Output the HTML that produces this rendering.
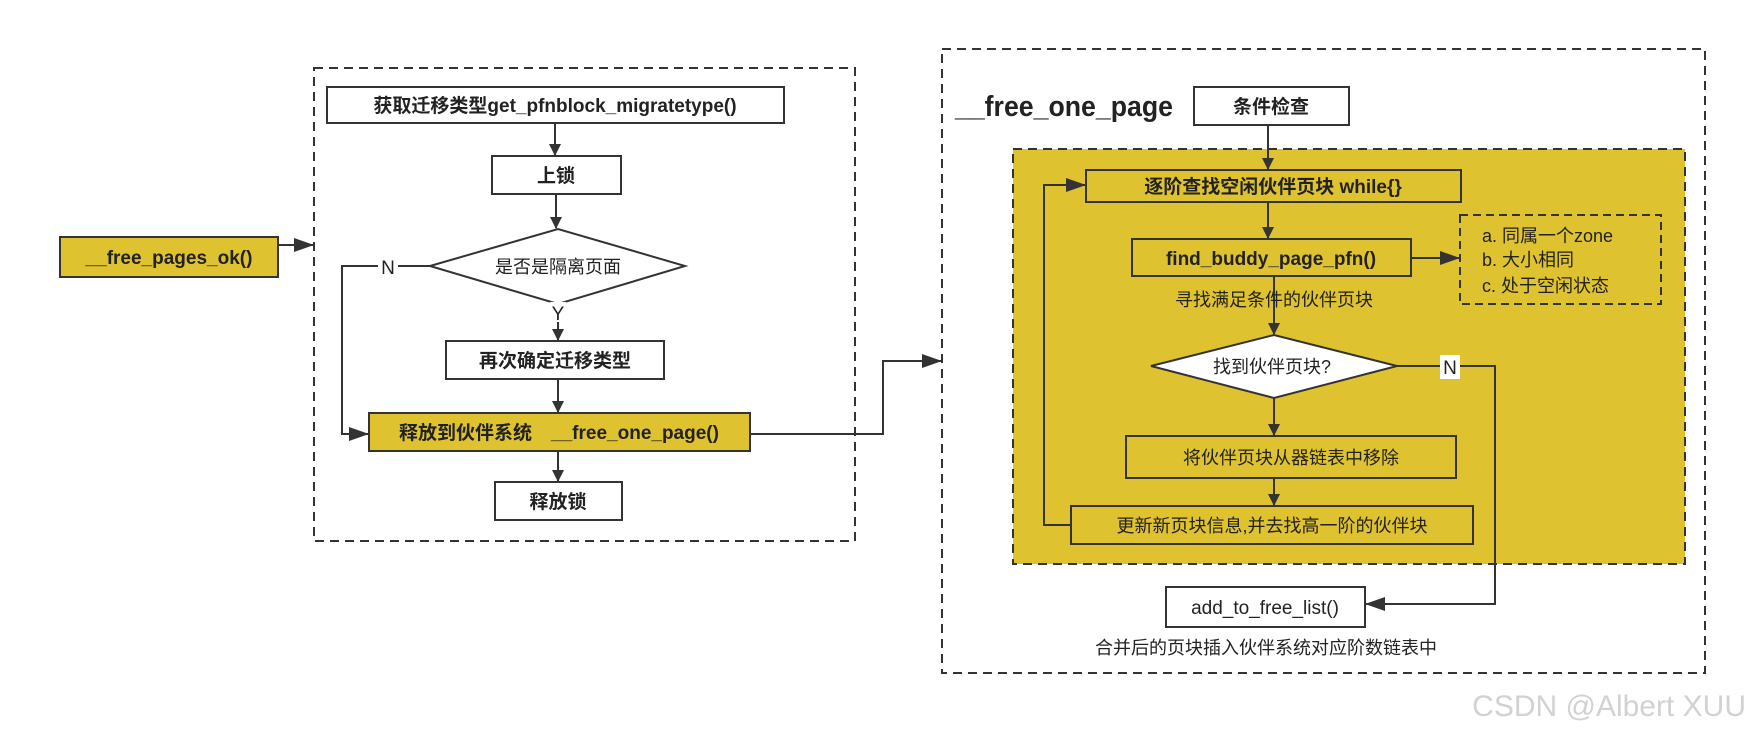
<!DOCTYPE html>
<html><head><meta charset="utf-8"><style>
html,body{margin:0;padding:0;background:#fff;}
svg{display:block;}
text{font-family:"Liberation Sans","Noto Sans CJK SC",sans-serif;fill:#222;}
.b{font-weight:bold;}
</style></head><body>
<svg width="1752" height="736" viewBox="0 0 1752 736" xmlns="http://www.w3.org/2000/svg">
<defs>
<marker id="a" markerWidth="12" markerHeight="14" refX="11" refY="6" orient="auto" markerUnits="userSpaceOnUse">
<path d="M0,0 L12,6 L0,12 Z" fill="#333"/></marker>
<marker id="a2" markerWidth="20" markerHeight="14" refX="19" refY="7" orient="auto" markerUnits="userSpaceOnUse">
<path d="M0,0 L20,7 L0,14 Z" fill="#333"/></marker>
</defs>
<g stroke="#333" stroke-width="2" fill="none">
<rect x="314" y="68" width="541" height="473" stroke-dasharray="9,6"/>
<rect x="942" y="49" width="763" height="624" stroke-dasharray="9,6"/>
</g>
<rect x="1013" y="149" width="672" height="415" fill="#dfc230" stroke="#333" stroke-width="2" stroke-dasharray="9,6"/>
<rect x="1460" y="215" width="201" height="89" fill="none" stroke="#333" stroke-width="2" stroke-dasharray="8,5"/>

<g stroke="#333" stroke-width="2">
<rect x="60" y="237" width="218" height="40" fill="#dfc230"/>
<rect x="327" y="87" width="457" height="36" fill="#fff"/>
<rect x="492" y="156" width="129" height="38" fill="#fff"/>
<polygon points="430,266 558,229 685,266 558,304" fill="#fff"/>
<rect x="446" y="341" width="218" height="38" fill="#fff"/>
<rect x="369" y="413" width="381" height="38" fill="#dfc230"/>
<rect x="495" y="482" width="127" height="38" fill="#fff"/>
<rect x="1194" y="87" width="155" height="38" fill="#fff"/>
<rect x="1086" y="170" width="375" height="32" fill="#dfc230"/>
<rect x="1132" y="239" width="279" height="37" fill="#dfc230"/>
<polygon points="1151,366 1274,335 1397,366 1274,398" fill="#fff"/>
<rect x="1126" y="436" width="330" height="42" fill="#dfc230"/>
<rect x="1071" y="506" width="402" height="38" fill="#dfc230"/>
<rect x="1166" y="587" width="199" height="40" fill="#fff"/>
</g>

<g stroke="#333" stroke-width="2" fill="none">
<line x1="278" y1="245" x2="313" y2="245" marker-end="url(#a2)"/>
<line x1="555" y1="123" x2="555" y2="155" marker-end="url(#a)"/>
<line x1="556" y1="194" x2="556" y2="228" marker-end="url(#a)"/>
<line x1="558" y1="304" x2="558" y2="340" marker-end="url(#a)"/>
<line x1="558" y1="379" x2="558" y2="412" marker-end="url(#a)"/>
<line x1="558" y1="451" x2="558" y2="481" marker-end="url(#a)"/>
<polyline points="430,266 342,266 342,434 368,434" marker-end="url(#a2)"/>
<polyline points="750,434 883,434 883,361 941,361" marker-end="url(#a2)"/>
<line x1="1268" y1="125" x2="1268" y2="169" marker-end="url(#a)"/>
<line x1="1268" y1="202" x2="1268" y2="238" marker-end="url(#a)"/>
<line x1="1411" y1="258" x2="1459" y2="258" marker-end="url(#a2)"/>
<line x1="1274" y1="276" x2="1274" y2="334" marker-end="url(#a)"/>
<line x1="1274" y1="398" x2="1274" y2="435" marker-end="url(#a)"/>
<line x1="1274" y1="478" x2="1274" y2="505" marker-end="url(#a)"/>
<polyline points="1071,525 1044,525 1044,185 1085,185" marker-end="url(#a2)"/>
<polyline points="1397,366 1495,366 1495,604 1366,604" marker-end="url(#a2)"/>
</g>

<rect x="550" y="302" width="16" height="20" fill="#fff"/>
<text x="558" y="320" font-size="19" text-anchor="middle">Y</text>
<rect x="378" y="256" width="20" height="22" fill="#fff"/>
<text x="388" y="274" font-size="19" text-anchor="middle">N</text>
<rect x="1440" y="355" width="20" height="24" fill="#fff"/>
<text x="1450" y="374" font-size="19" text-anchor="middle">N</text>

<g font-size="19" text-anchor="middle">
<text class="b" x="169" y="264">__free_pages_ok()</text>
<text class="b" x="555" y="112">获取迁移类型get_pfnblock_migratetype()</text>
<text class="b" x="556" y="182">上锁</text>
<text x="558" y="273" font-size="18">是否是隔离页面</text>
<text class="b" x="555" y="367">再次确定迁移类型</text>
<text class="b" x="559" y="439">释放到伙伴系统　__free_one_page()</text>
<text class="b" x="558" y="508">释放锁</text>
<text class="b" x="1271" y="113">条件检查</text>
<text class="b" x="1273" y="193">逐阶查找空闲伙伴页块 while{}</text>
<text class="b" x="1271" y="265">find_buddy_page_pfn()</text>
<text x="1274" y="306" font-size="18">寻找满足条件的伙伴页块</text>
<text x="1272" y="373" font-size="18">找到伙伴页块?</text>
<text x="1291" y="464" font-size="18">将伙伴页块从器链表中移除</text>
<text x="1272" y="532" font-size="18">更新新页块信息,并去找高一阶的伙伴块</text>
<text x="1265" y="614" font-size="19">add_to_free_list()</text>
<text x="1266" y="654" font-size="18">合并后的页块插入伙伴系统对应阶数链表中</text>
</g>
<g font-size="18">
<text x="1482" y="242">a. 同属一个zone</text>
<text x="1482" y="266">b. 大小相同</text>
<text x="1482" y="292">c. 处于空闲状态</text>
</g>
<text class="b" x="955" y="116" font-size="29" textLength="218" lengthAdjust="spacingAndGlyphs">__free_one_page</text>
<text x="1746" y="716" font-size="30" text-anchor="end" style="fill:#d2d2d2">CSDN @Albert XUU</text>
</svg>
</body></html>
